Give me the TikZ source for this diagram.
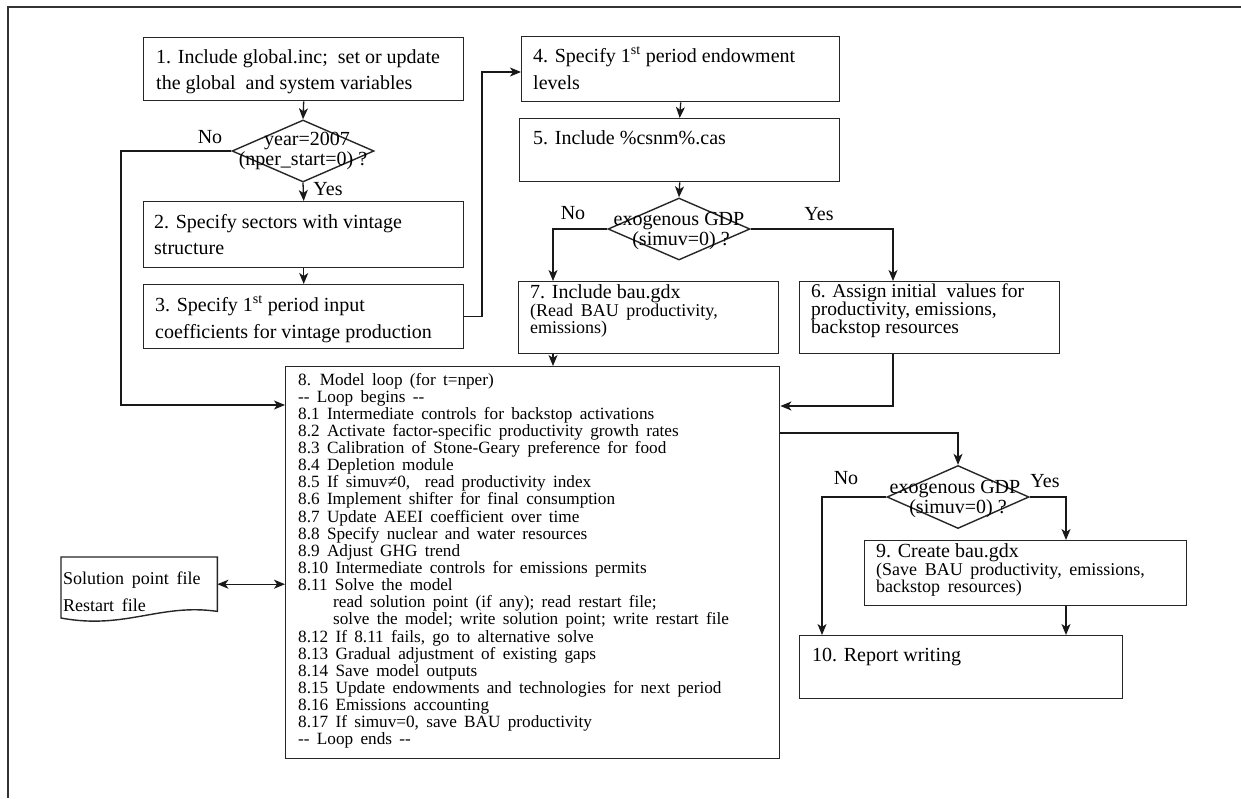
\documentclass[tikz,border=0pt]{standalone}
\usepackage{fontspec}
\setmainfont{Liberation Serif}
\newfontfamily\wsp{Liberation Serif}[WordSpace={1.7}]
\usetikzlibrary{shapes.geometric,arrows.meta,calc}
\newcommand\fbig{\fontsize{20}{24}\selectfont}
\newcommand\fmid{\fontsize{19.5}{24}\selectfont}
\newcommand\fsml{\wsp\fontsize{18}{17}\selectfont}
\newcommand\floop{\wsp\fontsize{17.2}{17}\selectfont}
\begin{document}
\begin{tikzpicture}[x=1pt,y=-1pt,
  box/.style={draw=black!85, line width=1.4pt, rectangle, inner sep=0pt, anchor=north west},
  dia/.style={draw=black!85, line width=1.4pt, diamond, inner sep=0pt},
  arr/.style={draw=black!90, line width=1.3pt, -{Stealth[length=11pt,width=9pt,inset=3pt]}},
  arrb/.style={draw=black!90, line width=1.3pt, {Stealth[length=11pt,width=9pt,inset=3pt]}-{Stealth[length=11pt,width=9pt,inset=3pt]}},
  tb/.style={font=\fbig, inner sep=0pt, anchor=base west},
  tm/.style={font=\fmid, inner sep=0pt, anchor=base west},
  ts/.style={font=\fsml, inner sep=0pt, anchor=base west},
  tl/.style={font=\floop, inner sep=0pt, anchor=base west},
  lab/.style={font=\fbig, inner sep=0pt, anchor=center}]
\useasboundingbox (0,0) rectangle (1241,798);
\fill[white] (0,0) rectangle (1241,798);
% frame
\draw[black!80, line width=2.4pt] (1241,7) -- (8,7) -- (8,798);

% boxes
\node[box, minimum width=320, minimum height=63] (b1) at (143,37) {};
\node[dia, minimum width=142, minimum height=62] (d1) at (303,151) {};
\node[box, minimum width=320, minimum height=66] (b2) at (143,201) {};
\node[box, minimum width=320, minimum height=64] (b3) at (143,284) {};
\node[box, minimum width=318, minimum height=65] (b4) at (521,36) {};
\node[box, minimum width=320, minimum height=63] (b5) at (519,118) {};
\node[dia, minimum width=142, minimum height=62] (d2) at (679,229) {};
\node[box, minimum width=260, minimum height=72] (b7) at (518,281) {};
\node[box, minimum width=260, minimum height=72] (b6) at (799,281) {};
\node[box, minimum width=494, minimum height=392] (b8) at (285,366) {};
\node[dia, minimum width=142, minimum height=63] (d3) at (958,497) {};
\node[box, minimum width=322, minimum height=65] (b9) at (864,540) {};
\node[box, minimum width=323, minimum height=63] (b10) at (799,635) {};
\node[inner sep=0pt, minimum width=156, minimum height=54, anchor=north west] (file) at (61,557) {};
\draw[black!85, line width=1.4pt] (file.north west) -- (file.north east) -- (file.south east)
  .. controls (160,603) and (125,630) .. (61,618) -- cycle;

% box texts
\node[tb] (t1a) at (156,63) {1. Include global.inc;\ \ set or update};
\node[tb] (t1b) at (156,89) {the global\ \ and system variables};
\node[tb] (t2a) at (154,228) {2. Specify sectors with vintage};
\node[tb] (t2b) at (154,254) {structure};
\node[tb] (t3a) at (155,311) {3. Specify 1\textsuperscript{st} period input};
\node[tb] (t3b) at (155,338) {coefficients for vintage production};
\node[tb] (t4a) at (533,62) {4. Specify 1\textsuperscript{st} period endowment};
\node[tb] (t4b) at (533,89) {levels};
\node[tb] (t5) at (533,144) {5. Include \%csnm\%.cas};
\node[tb] (t7a) at (530,298) {7. Include bau.gdx};
\node[ts] (t7b) at (530,316) {(Read BAU productivity,};
\node[ts] (t7c) at (530,333) {emissions)};
\node[tm] (t6a) at (811,297) {6. Assign initial\ \ values for};
\node[tm] (t6b) at (811,315) {productivity, emissions,};
\node[tm] (t6c) at (811,333) {backstop resources};
\node[tb] (t9a) at (876,557) {9. Create bau.gdx};
\node[ts] (t9b) at (876,575) {(Save BAU productivity, emissions,};
\node[ts] (t9c) at (876,592) {backstop resources)};
\node[tb] (t10) at (812,661) {10. Report writing};
\node[ts] (tf1) at (63,584) {Solution point file};
\node[ts] (tf2) at (63,611) {Restart file};

\foreach \txt [count=\i] in {
 {8. Model loop (for t=nper)},
 {-{}- Loop begins -{}-},
 {8.1 Intermediate controls for backstop activations},
 {8.2 Activate factor-specific productivity growth rates},
 {8.3 Calibration of Stone-Geary preference for food},
 {8.4 Depletion module},
 {8.5 If simuv≠0,\ \ read productivity index},
 {8.6 Implement shifter for final consumption},
 {8.7 Update AEEI coefficient over time},
 {8.8 Specify nuclear and water resources},
 {8.9 Adjust GHG trend},
 {8.10 Intermediate controls for emissions permits},
 {8.11 Solve the model},
 {\hspace*{35pt}read solution point (if any); read restart file;},
 {\hspace*{35pt}solve the model; write solution point; write restart file},
 {8.12 If 8.11 fails, go to alternative solve},
 {8.13 Gradual adjustment of existing gaps},
 {8.14 Save model outputs},
 {8.15 Update endowments and technologies for next period},
 {8.16 Emissions accounting},
 {8.17 If simuv=0, save BAU productivity},
 {-{}- Loop ends -{}-}}
{ \node[tl] (l\i) at (298,{367.86+17.14*\i}) {\txt}; }

% decision texts
\node[lab] (q1a) at (307,141) {year=2007};
\node[lab] (q1b) at (303,161) {(nper\_start=0) ?};
\node[lab] (q2a) at (679,221) {exogenous GDP};
\node[lab] (q2b) at (681,241) {(simuv=0) ?};
\node[lab] (q3a) at (955,489) {exogenous GDP};
\node[lab] (q3b) at (958,509) {(simuv=0) ?};

% yes/no
\node[lab] (n1) at (210,137) {No};
\node[lab] (y1) at (328,189) {Yes};
\node[lab] (n2) at (573,213) {No};
\node[lab] (y2) at (819,214) {Yes};
\node[lab] (n3) at (846,478) {No};
\node[lab] (y3) at (1045,481) {Yes};

% coordinates
\coordinate (k1) at (121,405);
\coordinate (k3) at (482,72);
\coordinate (k4) at (553,0);
\coordinate (k5) at (893,406);
\coordinate (k6) at (958,433);
\coordinate (k7) at (822,0);
\coordinate (k8) at (1066,0);

% connectors
\draw[arr] (b1.south) -- (d1.north);
\draw[arr] (d1.south) -- (b2.north);
\draw[arr] (b2.south) -- (b3.north);
\draw[arr] (d1.west) -| (k1) -- (b8.west |- k1);
\draw[arr] (b3.east) -| (k3) -- (b4.west |- k3);
\draw[arr] (b4.south) -- (b5.north);
\draw[arr] (b5.south) -- (d2.north);
\draw[arr] (d2.west) -| (b7.north -| k4);
\draw[arr] (d2.east) -| (b6.north -| k5);
\draw[arr] (b7.south -| k4) -- (b8.north -| k4);
\draw[arr] (b6.south -| k5) |- (b8.east |- k5);
\draw[arr] (b8.east |- k6) -| (d3.north);
\draw[arr] (d3.west) -| (b10.north -| k7);
\draw[arr] (d3.east) -| (b9.north -| k8);
\draw[arr] (b9.south -| k8) -- (b10.north -| k8);
\draw[arrb] (file.east) -- (b8.west |- file.east);
\end{tikzpicture}
\end{document}
